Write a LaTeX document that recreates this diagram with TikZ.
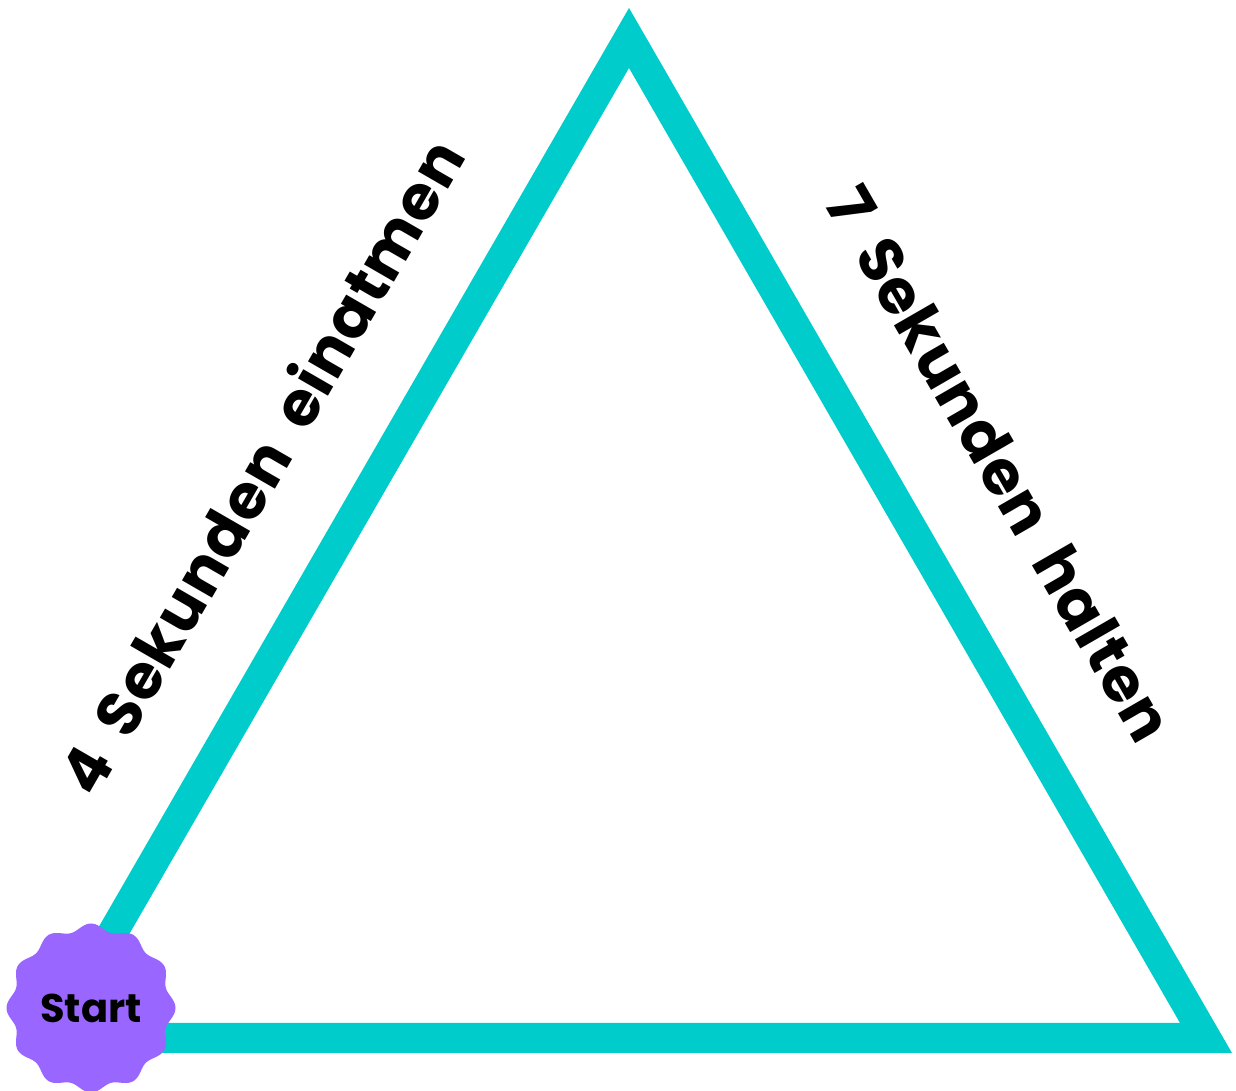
\documentclass[tikz,border=0pt]{standalone}
\usepackage{fontspec}
\setmainfont{Poppins}[BoldFont={* Bold}]
\newfontfamily\lblf{Poppins}[UprightFont={* Bold},LetterSpace=2,WordSpace=1.8]
\definecolor{tri}{HTML}{00CCCC}
\definecolor{badge}{HTML}{9966FF}
\begin{document}
\begin{tikzpicture}[x=1pt,y=1pt,
  edge/.style={draw=tri,line width=30pt,miter limit=10,line join=miter},
  lbl/.style={font=\lblf\fontsize{62}{62}\selectfont,inner sep=0pt}]
\useasboundingbox (0,0) rectangle (1236,1091);
\coordinate (A) at (629,1053);
\coordinate (R) at (1206,53);
\coordinate (L) at (52,53);
\draw[edge] (L) -- (A) -- (R) -- cycle;
\node[lbl,rotate=60] (t1) at (260,625) {4 Sekunden einatmen};
\node[lbl,rotate=-60] (t2) at (1000,627) {7 Sekunden halten};
\fill[badge] plot[domain=0:360,samples=241,smooth] ({91+(81+3.5*cos(12*\x))*cos(\x)},{83+(81+3.5*cos(12*\x))*sin(\x)}) -- cycle;
\node[font=\bfseries\fontsize{40}{40}\selectfont,inner sep=0pt] (start) at (91,83) {Start};
\end{tikzpicture}
\end{document}
